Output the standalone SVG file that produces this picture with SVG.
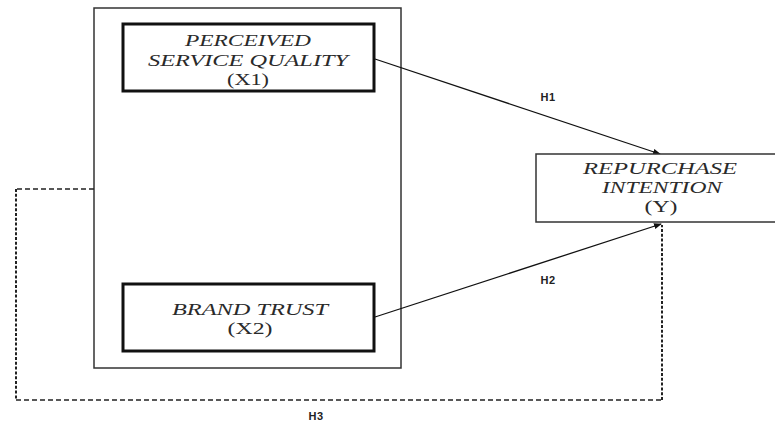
<svg xmlns="http://www.w3.org/2000/svg" width="775" height="424" viewBox="0 0 775 424">
<style>
.t{font-family:"Liberation Serif","Times New Roman",serif;font-size:16px;fill:#2a2a2a;text-anchor:middle}
.i{font-style:italic}
.lbl{font-family:"Liberation Sans",Arial,sans-serif;font-size:11px;font-weight:bold;fill:#222;letter-spacing:0.5px}
.ln{stroke:#111;stroke-width:1.3;fill:none}
.dh{stroke:#222;stroke-width:1.5;fill:none;stroke-dasharray:5 3}
.dv{stroke:#222;stroke-width:2;fill:none;stroke-dasharray:3 1.8}
</style>
<defs>
<marker id="ah" markerWidth="8" markerHeight="6" refX="7" refY="3" orient="auto" markerUnits="userSpaceOnUse">
<path d="M0,0 L8,3 L0,6 Z" fill="#111"/>
</marker>
</defs>
<rect width="775" height="424" fill="#fff"/>
<g id="outer">
<rect x="94" y="8" width="307" height="360" fill="none" stroke="#333" stroke-width="1.5"/>
</g>
<g id="connectors">
<line class="ln" x1="375" y1="59" x2="660" y2="154" marker-end="url(#ah)"/>
<line class="ln" x1="375" y1="317" x2="661" y2="224" marker-end="url(#ah)"/>
<path class="dh" d="M94,189 H16"/>
<path class="dv" d="M16,189 V400"/>
<path class="dh" d="M16,400 H662"/>
<path class="dv" d="M662,400 V225"/>
<text class="lbl" x="548" y="101" text-anchor="middle">H1</text>
<text class="lbl" x="548" y="284" text-anchor="middle">H2</text>
<text class="lbl" x="316" y="420" text-anchor="middle">H3</text>
</g>
<g id="x1">
<rect x="123" y="24" width="251" height="67" fill="#fff" stroke="#111" stroke-width="3"/>
<text class="t i" x="248" y="46" textLength="126" lengthAdjust="spacingAndGlyphs">PERCEIVED</text>
<text class="t i" x="248" y="66" textLength="200" lengthAdjust="spacingAndGlyphs">SERVICE QUALITY</text>
<text class="t" x="248" y="85" textLength="42" lengthAdjust="spacingAndGlyphs">(X1)</text>
</g>
<g id="x2">
<rect x="123" y="284" width="251" height="67" fill="#fff" stroke="#111" stroke-width="3"/>
<text class="t i" x="250" y="315" textLength="156" lengthAdjust="spacingAndGlyphs">BRAND TRUST</text>
<text class="t" x="250" y="334" textLength="45" lengthAdjust="spacingAndGlyphs">(X2)</text>
</g>
<g id="y">
<rect x="536" y="154" width="250" height="68" fill="#fff" stroke="#333" stroke-width="1.5"/>
<text class="t i" x="660" y="174" textLength="154" lengthAdjust="spacingAndGlyphs">REPURCHASE</text>
<text class="t i" x="662" y="193" textLength="120" lengthAdjust="spacingAndGlyphs">INTENTION</text>
<text class="t" x="661" y="212" textLength="33" lengthAdjust="spacingAndGlyphs">(Y)</text>
</g>
</svg>
